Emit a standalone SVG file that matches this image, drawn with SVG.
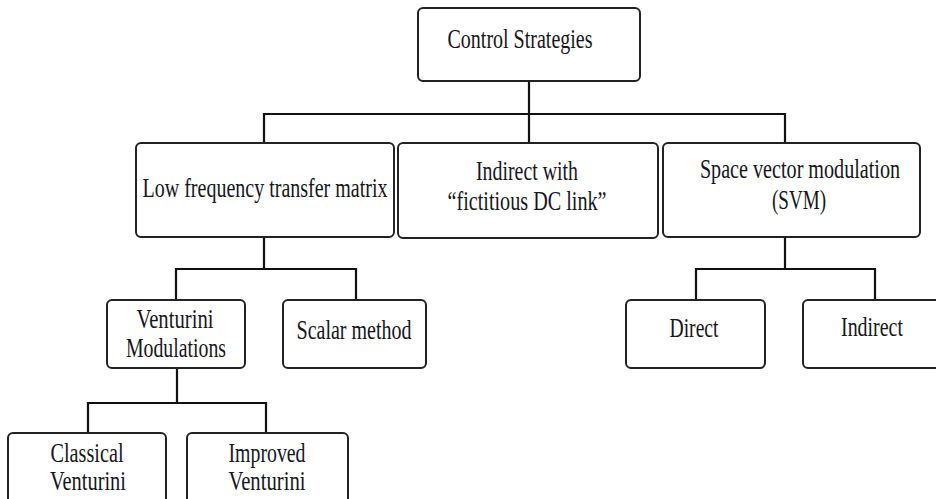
<svg xmlns="http://www.w3.org/2000/svg" width="936" height="499" viewBox="0 0 936 499">
<style>
.box{fill:#fff;stroke:#222;stroke-width:2}
.ln{fill:none;stroke:#111;stroke-width:2.2}
text{font-family:"Liberation Serif","Times New Roman",serif;font-size:27px;fill:#151520;text-anchor:middle}
</style>
<rect width="936" height="499" fill="#fff"/>
<g id="connectors">
<path class="ln" d="M529 81V143M264 143V114H785V143"/>
<path class="ln" d="M264 237V269M176 300V269H356V300"/>
<path class="ln" d="M785 237V269M696 300V269H875V300"/>
<path class="ln" d="M177 368V403M88 433V403H266V433"/>
</g>
<g id="n-control"><rect class="box" x="418" y="8" width="222" height="73" rx="5"/><text x="520" y="48" textLength="145" lengthAdjust="spacingAndGlyphs">Control Strategies</text></g>
<g id="n-lftm"><rect class="box" x="136" y="143" width="258" height="94" rx="5"/><text x="265" y="197" textLength="245" lengthAdjust="spacingAndGlyphs">Low frequency transfer matrix</text></g>
<g id="n-indirect-dc"><rect class="box" x="398" y="143" width="260" height="95" rx="5"/><text x="527" y="180" textLength="102" lengthAdjust="spacingAndGlyphs">Indirect with</text><text x="527" y="210" textLength="159" lengthAdjust="spacingAndGlyphs">“fictitious DC link”</text></g>
<g id="n-svm"><rect class="box" x="663" y="143" width="257" height="94" rx="5"/><text transform="translate(800 178) scale(0.72 1)" x="0" y="0" textLength="278" lengthAdjust="spacingAndGlyphs">Space vector modulation</text><text x="799" y="209" textLength="54" lengthAdjust="spacingAndGlyphs">(SVM)</text></g>
<g id="n-venturini"><rect class="box" x="107" y="300" width="138" height="68" rx="5"/><text x="175" y="328" textLength="77" lengthAdjust="spacingAndGlyphs">Venturini</text><text x="176" y="357" textLength="100" lengthAdjust="spacingAndGlyphs">Modulations</text></g>
<g id="n-scalar"><rect class="box" x="283" y="300" width="143" height="68" rx="5"/><text x="354" y="339" textLength="115" lengthAdjust="spacingAndGlyphs">Scalar method</text></g>
<g id="n-direct"><rect class="box" x="626" y="300" width="139" height="68" rx="5"/><text x="694" y="337" textLength="49" lengthAdjust="spacingAndGlyphs">Direct</text></g>
<g id="n-indirect"><rect class="box" x="803" y="300" width="150" height="68" rx="5"/><text x="872" y="336" textLength="62" lengthAdjust="spacingAndGlyphs">Indirect</text></g>
<g id="n-classical"><rect class="box" x="8" y="433" width="158" height="80" rx="5"/><text x="87" y="462" textLength="73" lengthAdjust="spacingAndGlyphs">Classical</text><text x="88" y="490" textLength="76" lengthAdjust="spacingAndGlyphs">Venturini</text></g>
<g id="n-improved"><rect class="box" x="187" y="433" width="161" height="80" rx="5"/><text x="267" y="462" textLength="77" lengthAdjust="spacingAndGlyphs">Improved</text><text x="267" y="490" textLength="77" lengthAdjust="spacingAndGlyphs">Venturini</text></g>
</svg>
